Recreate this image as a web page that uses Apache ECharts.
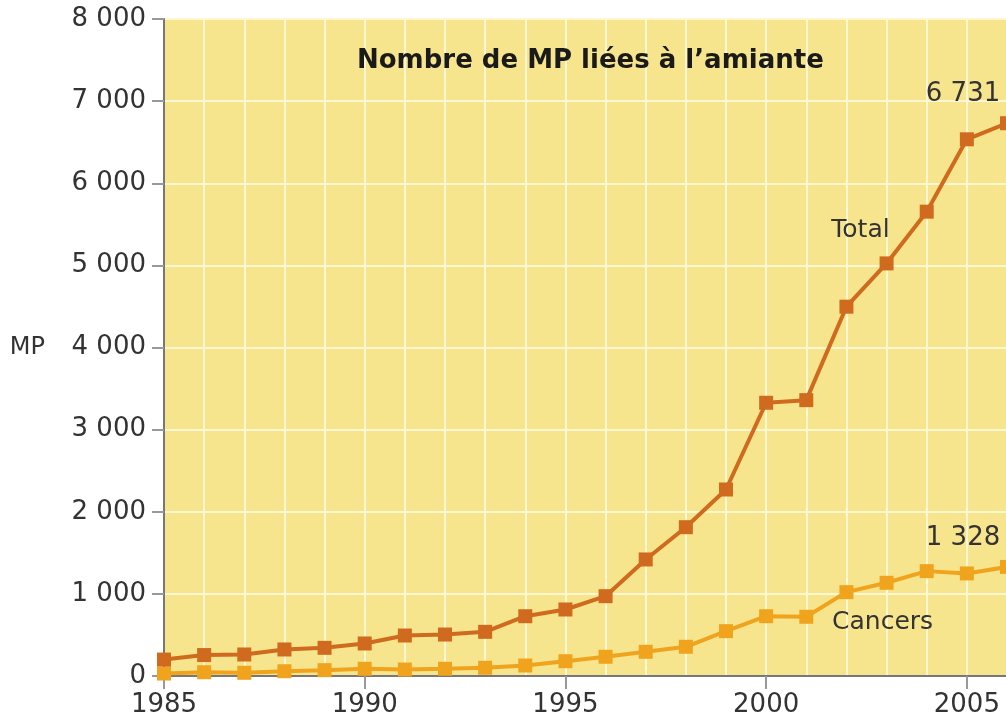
<!DOCTYPE html>
<html lang="fr">
<head>
    <meta charset="UTF-8">
    <title>Nombre de MP liées à l'amiante</title>
    <script type="text/javascript" src="https://cdn.jsdelivr.net/npm/echarts@6/dist/echarts.min.js"></script>
    <style>
        html, body { margin: 0; padding: 0; background: #fff; }
    </style>
</head>
<body>
<div id="main" style="width: 1006px;height:722px;"></div>
<script>
    var years = [1985, 1986, 1987, 1988, 1989, 1990, 1991, 1992, 1993, 1994, 1995,
        1996, 1997, 1998, 1999, 2000, 2001, 2002, 2003, 2004, 2005, 2006];
    var total = [200, 255, 262, 323, 343, 396, 493, 505, 538, 728, 810,
        972, 1419, 1812, 2271, 3327, 3359, 4497, 5024, 5654, 6535, 6731];
    var cancers = [30, 46, 39, 58, 71, 88, 79, 88, 100, 128, 180,
        234, 295, 356, 546, 728, 721, 1021, 1135, 1277, 1249, 1328];
    var yTicks = [0, 1000, 2000, 3000, 4000, 5000, 6000, 7000, 8000];

    function fmt(v) {
        return String(v).replace(/\B(?=(\d{3})+(?!\d))/g, ' ');
    }
    function pairs(vals) {
        var out = [];
        for (var i = 0; i < years.length; i++) out.push([years[i], vals[i]]);
        return out;
    }

    var font = 'DejaVu Sans, Verdana, sans-serif';
    var myChart = echarts.init(document.getElementById('main'));
    var lastIdx = years.length - 1;

    var option = {
        animation: false,
        title: {
            text: 'Nombre de MP liées à l\u2019amiante',
            left: 352,
            top: 43,
            textStyle: { fontFamily: font, fontSize: 26, fontWeight: 'bold', color: '#1a1a1a' }
        },
        grid: {
            left: 164,
            right: -1,
            top: 19,
            bottom: 46,
            outerBoundsMode: 'none',
            containLabel: false,
            show: true,
            backgroundColor: '#F7E58D',
            borderColor: '#8a8a8a',
            borderWidth: 1
        },
        xAxis: {
            type: 'value',
            min: 1985,
            max: 2006,
            interval: 5,
            axisLine: { show: true, onZero: false, lineStyle: { color: '#777', width: 2 } },
            axisTick: { show: true, length: 13, lineStyle: { color: '#999', width: 2 } },
            axisLabel: {
                fontFamily: font, fontSize: 26, color: '#333', margin: 16,
                formatter: function (v) { return String(v); }
            },
            splitLine: { show: true, lineStyle: { color: '#FFF6D2', width: 2 } },
            minorTick: { show: false, splitNumber: 5 },
            minorSplitLine: { show: true, lineStyle: { color: '#FFF6D2', width: 2 } }
        },
        yAxis: {
            type: 'value',
            min: yTicks[0],
            max: yTicks[yTicks.length - 1],
            interval: 1000,
            name: 'MP',
            nameLocation: 'middle',
            nameRotate: 0,
            nameGap: 119,
            nameTextStyle: { fontFamily: font, fontSize: 24, color: '#333' },
            axisLine: { show: true, lineStyle: { color: '#777', width: 2 } },
            axisTick: { show: true, length: 12, lineStyle: { color: '#999', width: 2 } },
            axisLabel: {
                fontFamily: font, fontSize: 26, color: '#333', margin: 18,
                formatter: function (v) { return fmt(v); }
            },
            splitLine: { show: true, lineStyle: { color: '#FFF6D2', width: 2 } }
        },
        series: [
            {
                name: 'Total',
                type: 'line',
                data: pairs(total),
                symbol: 'rect',
                symbolSize: 14,
                lineStyle: { color: '#CF6A1E', width: 4 },
                itemStyle: { color: '#CF6A1E' },
                label: {
                    show: true,
                    position: 'top',
                    offset: [-44, -4],
                    fontFamily: font, fontSize: 26, color: '#333',
                    formatter: function (p) {
                        return p.dataIndex === lastIdx ? fmt(p.value[1]) : '';
                    }
                },
                markPoint: {
                    symbol: 'rect',
                    symbolSize: 1,
                    itemStyle: { color: 'rgba(0,0,0,0)' },
                    label: { show: true, fontFamily: font, fontSize: 25, color: '#333', formatter: 'Total' },
                    data: [{ coord: [2002.35, 5430] }]
                },
                z: 3
            },
            {
                name: 'Cancers',
                type: 'line',
                data: pairs(cancers),
                symbol: 'rect',
                symbolSize: 14,
                lineStyle: { color: '#F0A41E', width: 4 },
                itemStyle: { color: '#F0A41E' },
                label: {
                    show: true,
                    position: 'top',
                    offset: [-44, -4],
                    fontFamily: font, fontSize: 26, color: '#333',
                    formatter: function (p) {
                        return p.dataIndex === lastIdx ? fmt(p.value[1]) : '';
                    }
                },
                markPoint: {
                    symbol: 'rect',
                    symbolSize: 1,
                    itemStyle: { color: 'rgba(0,0,0,0)' },
                    label: { show: true, fontFamily: font, fontSize: 25, color: '#333', formatter: 'Cancers' },
                    data: [{ coord: [2002.9, 650] }]
                },
                z: 2
            }
        ]
    };
    myChart.setOption(option);
</script>
</body>
</html>
